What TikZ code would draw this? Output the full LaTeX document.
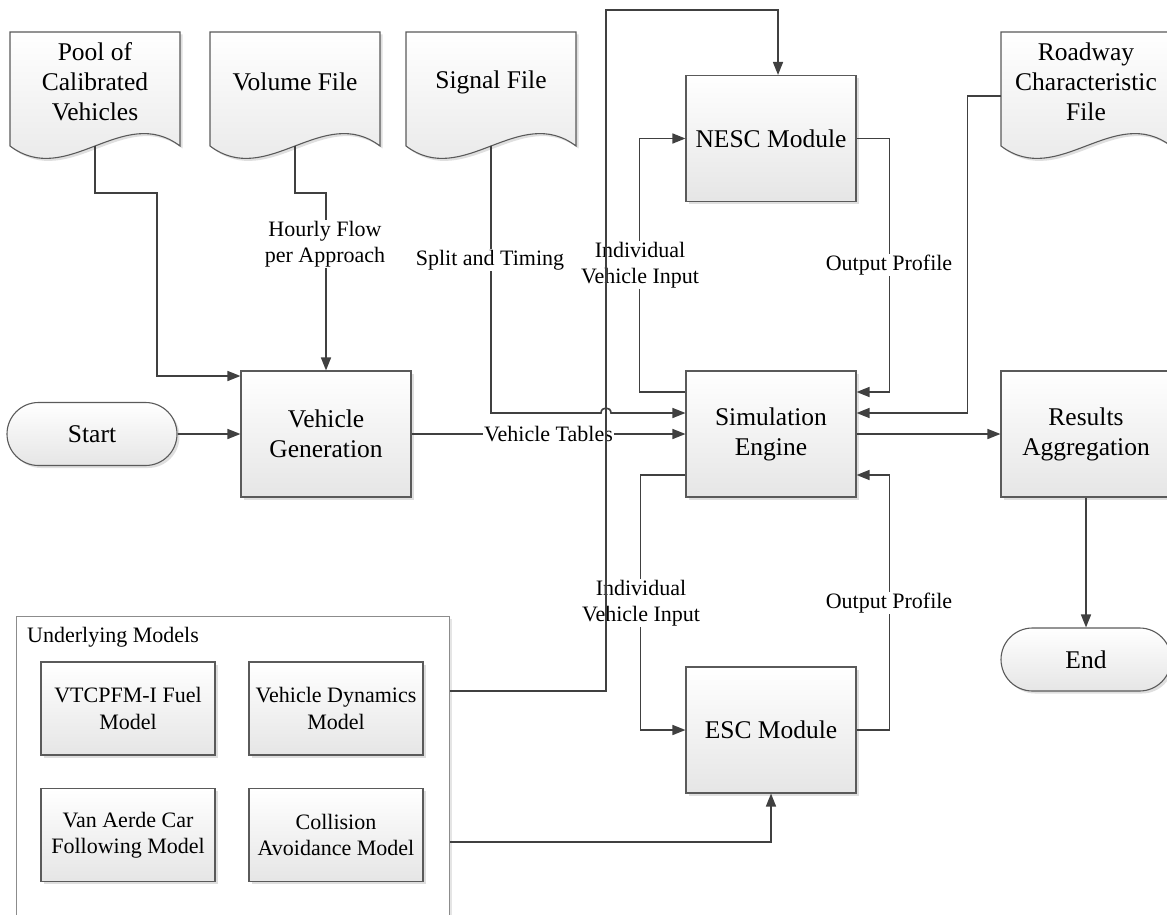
\documentclass[tikz,border=0pt]{standalone}
\usepackage{fontspec}
\setmainfont{Liberation Serif}
\usetikzlibrary{arrows.meta,shadows,calc}
\definecolor{ln}{HTML}{404040}
\definecolor{bd}{HTML}{5A5A5A}
\newcommand\bigfnt{\fontsize{25.5}{30}\selectfont}
\newcommand\lblfnt{\fontsize{22}{26.5}\selectfont}
\tikzset{
  shadebox/.style={draw=bd, line width=1.1pt, top color=white, bottom color=black!10,
    drop shadow={shadow xshift=2.5pt, shadow yshift=-2.5pt, fill=black!25, opacity=0.5}},
  procbox/.style={shadebox, rectangle, minimum width=170pt, minimum height=126pt,
    align=center, inner sep=0pt, font=\bigfnt},
  termbox/.style={shadebox, rectangle, rounded corners=31.5pt, minimum width=170pt,
    minimum height=63pt, align=center, inner sep=0pt, font=\bigfnt},
  modelbox/.style={shadebox, rectangle, minimum width=174pt, minimum height=93pt,
    align=center, inner sep=0pt, font=\lblfnt},
  container/.style={draw=black!45, line width=1.1pt, fill=white,
    drop shadow={shadow xshift=2.5pt, shadow yshift=-2.5pt, fill=black!20, opacity=0.5}},
  conn/.style={draw=ln, line width=1.6pt, -{Triangle[length=13pt,width=10pt]}},
  plainconn/.style={draw=ln, line width=1.6pt},
  lbl/.style={fill=white, inner sep=1pt, align=center, font=\lblfnt, text=black},
  doctext/.style={align=center, font=\bigfnt, inner sep=0pt},
}
\newcommand\docshape[4]{%
  \path[shadebox] (#2,32) -- ++(170,0) -- ++(0,114)
    .. controls ++(-57,-43) and ++(57,43) .. ++(-170,0) -- cycle;
  \node[doctext] (#1) at ({#2+85},#3) {#4};
  \coordinate (#1-b) at ({#2+85},146);
}
\begin{document}
\begin{tikzpicture}[x=1pt,y=-1pt]
\useasboundingbox (0,0) rectangle (1167,915);

% documents
\docshape{pool}{10}{82}{Pool of\\Calibrated\\Vehicles}
\docshape{vol}{210}{82}{Volume File}
\docshape{sig}{406}{82}{Signal File}
\docshape{road}{1001}{82}{Roadway\\Characteristic\\File}
\coordinate (roadL) at (1001,96);

% process boxes
\node[procbox] (VG) at (326,434) {Vehicle\\Generation};
\node[procbox] (SE) at (771,434) {Simulation\\Engine};
\node[procbox] (NESC) at (771,138.5) {NESC Module};
\node[procbox] (ESC) at (771,730) {ESC Module};
\node[procbox] (RA) at (1086,434) {Results\\Aggregation};
\node[termbox] (Start) at (92,434) {Start};
\node[termbox] (End) at (1086,659.5) {End};

% underlying models
\node[container, minimum width=433pt, minimum height=320pt, anchor=north west, inner sep=0pt] (UM) at (16,616) {};
\node[anchor=west, font=\lblfnt, inner sep=0pt] (UMt) at (27,637) {Underlying Models};
\node[modelbox] (VT) at (128,708.5) {VTCPFM-I Fuel\\Model};
\node[modelbox] (VD) at (336,708.5) {Vehicle Dynamics\\Model};
\node[modelbox] (VA) at (128,835) {Van Aerde Car\\Following Model};
\node[modelbox] (CA) at (336,835) {Collision\\Avoidance Model};

% helper coordinates
\coordinate (y193) at (0,193);
\coordinate (hopL) at (601,413);
\coordinate (hopR) at (611,413);
\coordinate (top) at (606,10);

% connectors
\draw[conn] (pool-b) |- (157,193) |- ($(VG.west)+(0,-58)$);
\draw[conn] (vol-b) |- (VG.north |- y193) -- (VG.north);
\draw[conn] (sig-b) |- (hopL) .. controls +(0,-6.67) and +(0,-6.67) .. (hopR) -- ($(SE.west)+(0,-21)$);
\draw[conn] (Start.east) -- (VG.west);
\draw[conn] (VG.east) -- node[lbl] (vtl) {Vehicle Tables} (SE.west);
\draw[conn] ($(SE.west)+(0,-42)$) -| ($(NESC.west)+(-46,0)$) -- (NESC.west);
\draw[conn] (NESC.east) -| ($(SE.east)+(33,-42)$) -- ($(SE.east)+(0,-42)$);
\draw[conn] (roadL) -| ($(SE.east)+(111,-21)$) -- ($(SE.east)+(0,-21)$);
\draw[conn] (SE.east) -- (RA.west);
\draw[conn] (RA.south) -- (End.north);
\draw[conn] ($(SE.west)+(0,41)$) -| ($(ESC.west)+(-45,0)$) -- (ESC.west);
\draw[conn] (ESC.east) -| ($(SE.east)+(33,41)$) -- ($(SE.east)+(0,41)$);
\draw[conn] ($(UM.north east)+(0,226)$) -| (ESC.south);

% labels
\node[lbl] (l1) at (325,244) {Hourly Flow\\per Approach};
\node[lbl] (l2) at (490,260) {Split and Timing};
\node[lbl] (l3) at (640,265) {Individual\\Vehicle Input};
\node[lbl] (l4) at (889,265) {Output Profile};
\node[lbl] (l5) at (641,603) {Individual\\Vehicle Input};
\node[lbl] (l6) at (889,603) {Output Profile};

% long connector drawn on top
\draw[conn] ($(UM.north east)+(0,75)$) -| (top) -| ($(NESC.north)+(7,0)$);
\end{tikzpicture}
\end{document}
